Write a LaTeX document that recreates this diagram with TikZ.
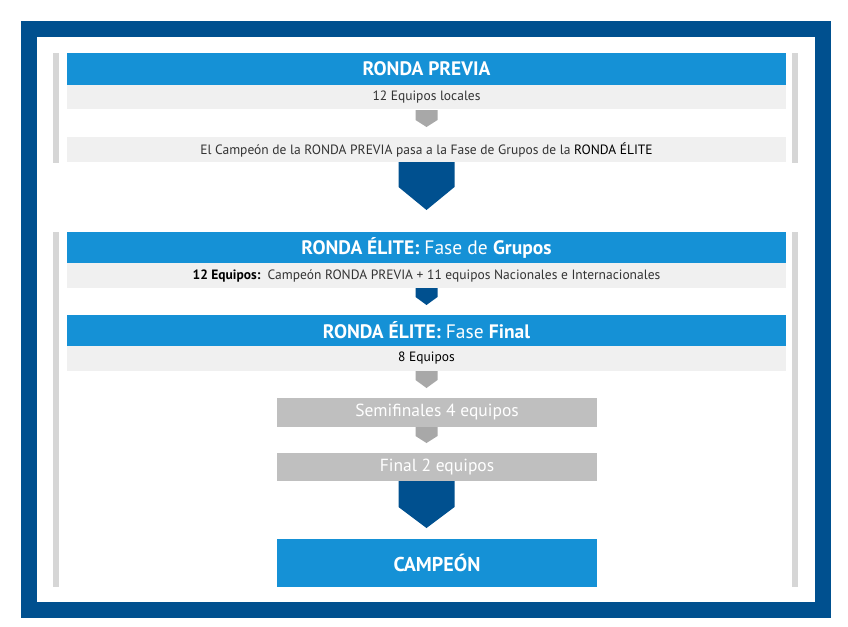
\documentclass[tikz,border=0pt]{standalone}
\usepackage{fontspec}
\setmainfont{PT Sans}
\usetikzlibrary{calc}
\definecolor{dblue}{HTML}{00508F}
\definecolor{bblue}{HTML}{1591D6}
\definecolor{rowgray}{HTML}{F0F0F0}
\definecolor{bargray}{HTML}{D6D6D6}
\definecolor{boxgray}{HTML}{BFBFBF}
\definecolor{arrgray}{HTML}{A8A8A8}
\definecolor{txtgray}{HTML}{333333}
\newcommand\flowarrow[6]{% color, coordinate, halfwidth, top offset, shoulder, tip
  \fill[#1] ($(#2)+(-#3,#4)$) -- ($(#2)+(-#3,#5)$) -- ($(#2)+(0,#6)$)
    -- ($(#2)+(#3,#5)$) -- ($(#2)+(#3,#4)$) -- cycle;}
\begin{document}
\begin{tikzpicture}[x=1pt,y=-1pt,
  box/.style={anchor=north west,inner sep=0pt,outer sep=0pt,minimum width=719pt},
  hdr/.style={box,fill=bblue,text=white,font=\fontsize{19.5}{22}\selectfont\bfseries},
  row/.style={box,fill=rowgray,text=txtgray,font=\fontsize{13.5}{15}\selectfont},
  gbox/.style={anchor=north west,inner sep=0pt,outer sep=0pt,minimum width=320pt,fill=boxgray,text=white,font=\fontsize{17.5}{20}\selectfont},
  sidebar/.style={fill=bargray}]
\fill[white] (0,0) rectangle (848,626);
\useasboundingbox (0,0) rectangle (848,626);
\draw[dblue,line width=16pt] (29,29) rectangle (823,610);
% side bars
\fill[sidebar] (53,53) rectangle (59,163);
\fill[sidebar] (792,53) rectangle (798,163);
\fill[sidebar] (53,232) rectangle (59,587);
\fill[sidebar] (792,232) rectangle (798,587);
% RONDA PREVIA
\node[hdr,minimum height=32pt] (h1) at (67,53) {RONDA PREVIA};
\node[row,minimum height=24pt] (r1) at (67,85) {12 Equipos locales};
\node[row,minimum height=25pt] (r2) at (67,137) {El Campeón de la RONDA PREVIA pasa a la Fase de Grupos de la \textcolor{black}{RONDA ÉLITE}};
\flowarrow{arrgray}{r1.south}{11}{1}{11}{18}
\flowarrow{dblue}{r2.south}{28}{0}{25}{48}
% RONDA ELITE grupos
\node[hdr,minimum height=31pt] (h2) at (67,232) {RONDA ÉLITE: \mdseries Fase de \bfseries Grupos};
\node[row,minimum height=25pt] (r3) at (67,263) {\textcolor{black}{\bfseries 12 Equipos:}\ \ Campeón RONDA PREVIA + 11 equipos Nacionales e Internacionales};
\flowarrow{dblue}{r3.south}{11}{0}{9}{17}
\node[hdr,minimum height=31pt] (h3) at (67,315) {RONDA ÉLITE: \mdseries Fase \bfseries Final};
\node[row,minimum height=25pt] (r4) at (67,346) {\textcolor{black}{8 Equipos}};
\flowarrow{arrgray}{r4.south}{11}{0}{9}{17}
\node[gbox,minimum height=29pt] (semi) at (277,398) {Semifinales 4 equipos};
\coordinate (a5) at (r4.south |- semi.south);
\flowarrow{arrgray}{a5}{11}{0}{9}{16}
\node[gbox,minimum height=28pt] (fin) at (277,453) {Final 2 equipos};
\coordinate (a6) at (r4.south |- fin.south);
\flowarrow{dblue}{a6}{28}{0}{26}{47}
\node[gbox,fill=bblue,minimum height=48pt,font=\fontsize{20}{23}\selectfont\bfseries] (camp) at (277,539) {CAMPEÓN};
\end{tikzpicture}
\end{document}
